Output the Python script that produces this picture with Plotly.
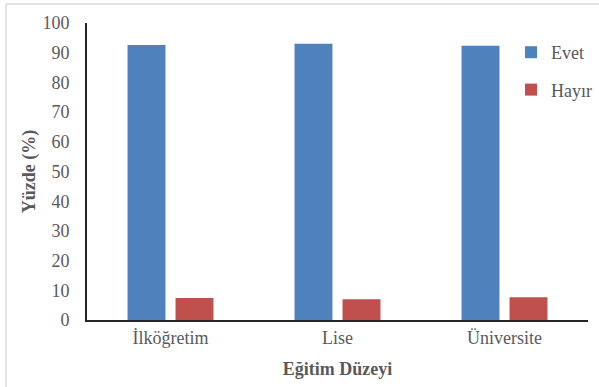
import plotly.graph_objects as go

# Eğitim düzeyine göre cevap yüzdeleri
categories = ["İlköğretim", "Lise", "Üniversite"]
evet = [92.6, 93.0, 92.3]
hayir = [7.4, 7.0, 7.7]
y_ticks = list(range(0, 101, 10))

FONT = "Liberation Serif, Times New Roman, serif"
GREY = "#595959"

fig = go.Figure()
fig.add_trace(go.Bar(name="Evet", x=categories, y=evet,
                     marker=dict(color="#4f81bd", line=dict(width=0)),
                     legendgroup="a"))
fig.add_trace(go.Bar(name="Hayır", x=categories, y=hayir,
                     marker=dict(color="#c0504d", line=dict(width=0)),
                     legendgroup="b"))

L, R, T, B = 87, 11, 23, 67
W, H = 599, 387
pw, ph = W - L - R, H - T - B

def px(x):
    return (x - L) / pw

def py(y):
    return 1 - (y - T) / ph

fig.update_layout(
    width=W, height=H,
    margin=dict(l=L, r=R, t=T, b=B, autoexpand=False),
    paper_bgcolor="white", plot_bgcolor="white",
    barmode="group", bargap=0.425, bargroupgap=0.21,
    font=dict(family=FONT, size=18, color=GREY),
    showlegend=True,
    legend=dict(xref="container", yref="container",
                x=511 / W, y=1 - 34 / H, xanchor="left", yanchor="top",
                font=dict(family=FONT, size=18, color=GREY),
                tracegroupgap=11, traceorder="grouped",
                bgcolor="rgba(0,0,0,0)", itemwidth=30),
    xaxis=dict(showline=True, linecolor="#262626", linewidth=2,
               ticks="", showgrid=False, zeroline=False,
               automargin=False,
               tickfont=dict(family=FONT, size=18, color=GREY),
               title=dict(text="<b>Eğitim Düzeyi</b>", standoff=16,
                          font=dict(family=FONT, size=18, color=GREY))),
    yaxis=dict(range=[0, 100], tickvals=y_ticks, showline=True,
               linecolor="#262626", linewidth=2, ticks="",
               showgrid=False, zeroline=False, ticklabelstandoff=12,
               automargin=False,
               tickfont=dict(family=FONT, size=18, color=GREY),
               title=dict(text="<b>Yüzde (%)</b>", standoff=2,
                          font=dict(family=FONT, size=18, color=GREY))),
    shapes=[
        dict(type="line", xref="paper", yref="paper",
             x0=px(6), x1=px(W + 5), y0=py(4), y1=py(4),
             line=dict(color="#d9d9d9", width=1.5)),
        dict(type="line", xref="paper", yref="paper",
             x0=px(6), x1=px(6), y0=py(4), y1=py(H + 5),
             line=dict(color="#d9d9d9", width=1.5)),
    ],
)

fig.write_html("out.html")
